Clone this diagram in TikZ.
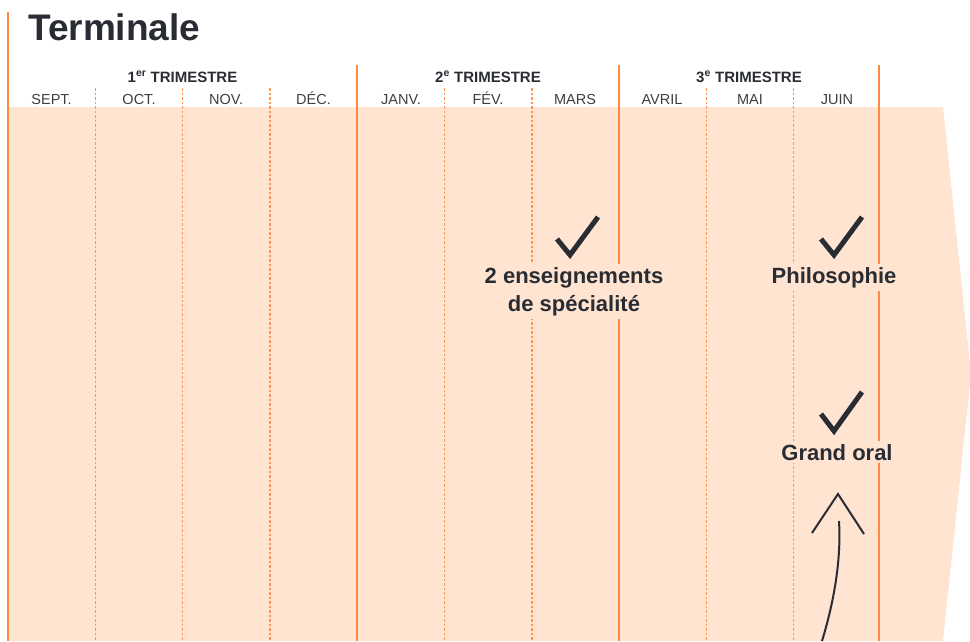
\documentclass[tikz,border=0pt]{standalone}
\usepackage{fontspec}
\setmainfont{Liberation Sans}
\definecolor{orng}{HTML}{FF8A3D}
\definecolor{band}{HTML}{FFE4D2}
\definecolor{dashc}{HTML}{FF9350}
\definecolor{ink}{HTML}{2A2C33}
\definecolor{monthc}{HTML}{3E3E42}
\begin{document}
\begin{tikzpicture}[x=1pt,y=-1pt,
  thickline/.style={draw=orng,line width=2.6pt},
  dashline/.style={draw=dashc,line width=1.4pt,dash pattern=on 2.5pt off 2pt},
  month/.style={anchor=base,text=monthc,font=\fontsize{14.5}{16}\selectfont,inner sep=0pt},
  trim/.style={anchor=base,text=ink,font=\bfseries\fontsize{15}{17}\selectfont,inner sep=0pt},
  label/.style={anchor=base,text=ink,fill=band,align=center,inner sep=3pt,font=\bfseries\fontsize{22}{28}\selectfont},
  check/.style={draw=ink,line width=5pt,miter limit=10},
  arrowline/.style={draw=ink,line width=2pt}]
\useasboundingbox (0,0) rectangle (970,641);
% band
\fill[band] (8,107) -- (943,107) -- (971,374) -- (943,641) -- (8,641) -- cycle;
% dashed month separators
\foreach \x [count=\i] in {95.3,182.6,269.9,444.5,531.8,706.4,793.7} {
  \coordinate (dt\i) at (\x,88);
  \coordinate (db\i) at (\x,641);
  \draw[dashline] (dt\i) -- (db\i);
}
% thick trimester lines
\coordinate (l0t) at (8,12); \coordinate (l0b) at (8,641);
\draw[thickline] (l0t) -- (l0b);
\foreach \x [count=\i] in {357,619,879} {
  \coordinate (lt\i) at (\x,65);
  \coordinate (lb\i) at (\x,641);
  \draw[thickline] (lt\i) -- (lb\i);
}
% title
\node[anchor=base west,text=ink,font=\bfseries\fontsize{37}{40}\selectfont,inner sep=0pt] (title) at (28,40) {Terminale};
% trimesters
\node[trim] (t1) at (182.5,82) {1\textsuperscript{er} TRIMESTRE};
\node[trim] (t2) at (488,82) {2\textsuperscript{e} TRIMESTRE};
\node[trim] (t3) at (749,82) {3\textsuperscript{e} TRIMESTRE};
% months
\node[month] (m1) at (51.6,104) {SEPT.};
\node[month] (m2) at (139,104) {OCT.};
\node[month] (m3) at (226.2,104) {NOV.};
\node[month] (m4) at (313.5,104) {DÉC.};
\node[month] (m5) at (401,104) {JANV.};
\node[month] (m6) at (488,104) {FÉV.};
\node[month] (m7) at (575,104) {MARS};
\node[month] (m8) at (662,104) {AVRIL};
\node[month] (m9) at (750,104) {MAI};
\node[month] (m10) at (837,104) {JUIN};
% labels
\node[label] (spe) at (574,311) {2 enseignements\\de spécialité};
\node[label] (philo) at (834,283) {Philosophie};
\node[label] (oral) at (837,460) {Grand oral};
% checks
\draw[check] (557,239) -- (570,255) -- (598,217);
\draw[check] (821,239) -- (834,255) -- (862,217);
\draw[check] (821,414) -- (834,431) -- (862,392);
% arrow
\coordinate (as) at (822,641);
\coordinate (ae) at (839,521);
\draw[arrowline] (as) .. controls (836,595) and (841,555) .. (ae);
\coordinate (hl) at (812,533);
\coordinate (ht) at (838,494);
\coordinate (hr) at (864,534);
\draw[arrowline] (hl) -- (ht) -- (hr);
\end{tikzpicture}
\end{document}
